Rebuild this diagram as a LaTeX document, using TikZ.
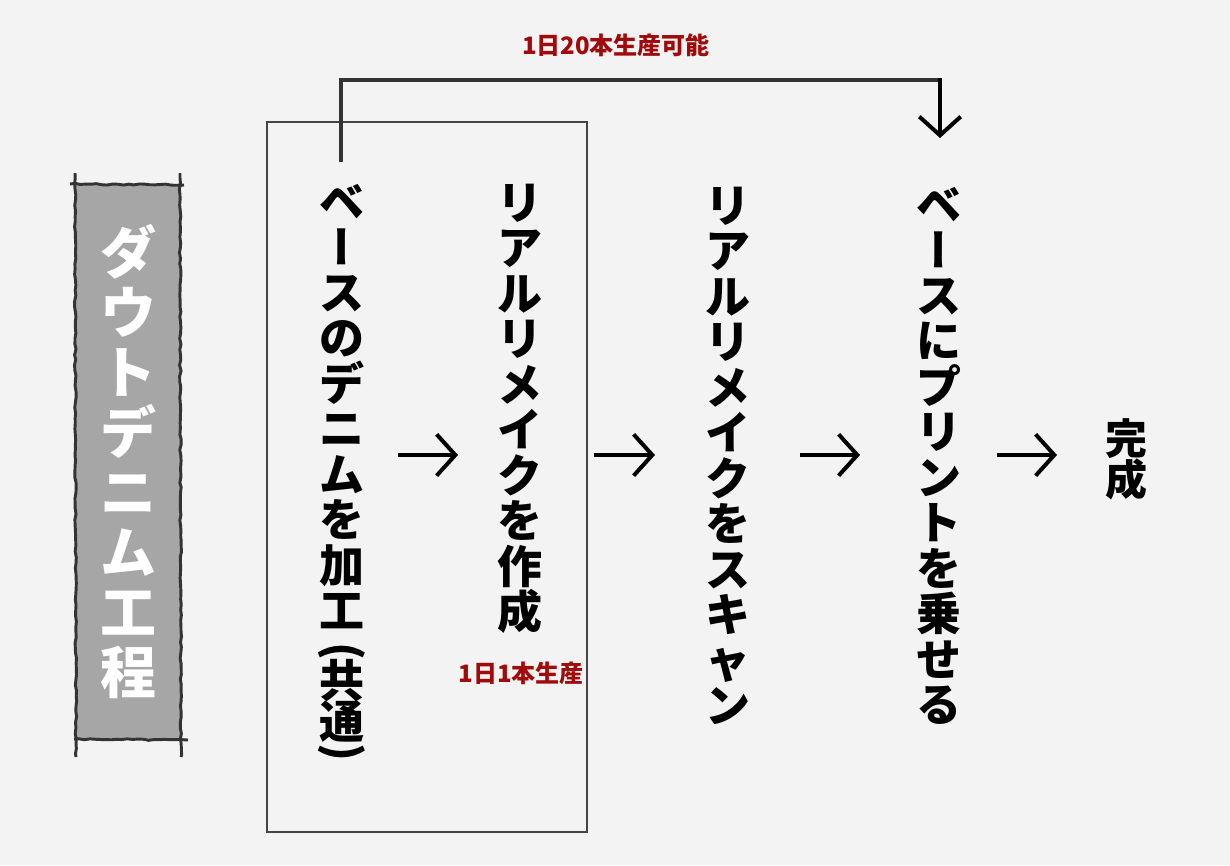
\documentclass[tikz,border=0pt]{standalone}
\usepackage{fontspec}
\usetikzlibrary{arrows.meta,decorations.pathmorphing}
\newfontfamily\jp{Noto Sans CJK JP}
\newfontfamily\jpv[RawFeature=+vert]{Noto Sans CJK JP}
\definecolor{bg}{HTML}{F3F3F3}
\definecolor{titlefill}{HTML}{A6A6A6}
\definecolor{ink}{HTML}{333333}
\definecolor{boxline}{HTML}{444444}
\definecolor{note}{HTML}{A00A0A}
\tikzset{
  ch/.style={inner sep=0pt, font=\jp\bfseries\fontsize{33.75}{33.75}\selectfont, text height=29.7pt, text depth=4.05pt},
  chfree/.style={inner sep=0pt, font=\jp\bfseries\fontsize{33.75}{33.75}\selectfont},
  titlech/.style={inner sep=0pt, text=white, font=\jp\bfseries\fontsize{42}{42}\selectfont, text height=36.96pt, text depth=5.04pt},
  donech/.style={inner sep=0pt, font=\jp\bfseries\fontsize{31.5}{31.5}\selectfont, text height=27.7pt, text depth=3.8pt},
  notelabel/.style={inner sep=0pt, text=note, font=\jp\bfseries\fontsize{18}{18}\selectfont},
  sketch/.style={line width=2.2pt, draw=ink, decorate, decoration={random steps, segment length=4pt, amplitude=0.55pt}},
  flowarrow/.style={line width=3pt, -{Straight Barb[length=14pt,width=31pt]}},
  bracket/.style={line width=3pt, draw=ink},
  groupbox/.style={line width=1.1pt, draw=boxline},
}
\begin{document}
\begin{tikzpicture}[x=0.75pt,y=-0.75pt]
\pgfmathsetseed{7}
\fill[bg] (0,0) rectangle (1230,865);
\useasboundingbox (0,0) rectangle (1230,865);

% title banner
\fill[titlefill] (76,184) rectangle (180,739);
\draw[sketch] (75,173) -- (76,757);
\draw[sketch] (180,173) -- (181,757);
\draw[sketch] (70,184) -- (184,185);
\draw[sketch] (74,739) -- (188,740);
\foreach \c/\y [count=\i] in {ダ/252,ウ/312,ト/372,デ/432,ニ/492,ム/552,工/612,程/672}
  \node[titlech] (t\i) at (128,\y) {\c};

% group box
\draw[groupbox] (267,122) rectangle (587,832);

% column 1
\foreach \c/\y [count=\i] in {ベ/201,ス/292,の/337.5,デ/383,ニ/428.5,ム/474,を/519.5,加/565,工/610.5,共/680,通/721}
  \node[ch] (a\i) at (342,\y) {\c};
\node[chfree] (abar) at (342,246.5) {\jpv ー};
\node[chfree, rotate=-90] (aopen) at (342,651) {(};
\node[chfree, rotate=-90] (aclose) at (342,752) {)};

% column 2
\foreach \c [count=\i] in {リ,ア,ル,リ,メ,イ,ク,を,作,成}
  \node[ch] (b\i) at (520,{202+(\i-1)*45.5}) {\c};

% column 3
\foreach \c [count=\i] in {リ,ア,ル,リ,メ,イ,ク,を,ス,キ,ャ,ン}
  \node[ch] (c\i) at (728,{205+(\i-1)*45.5}) {\c};

% column 4
\foreach \c [count=\i] in {ベ,ス,に,プ,リ,ン,ト,を,乗,せ,る}
  \node[ch] (d\i) at (939,{204+(\i>1)*45.5+(\i-1)*45.5}) {\c};
\node[chfree] (dbar) at (939,249.5) {\jpv ー};

% done
\node[donech] (e1) at (1126,439) {完};
\node[donech] (e2) at (1126,480) {成};

% notes
\node[notelabel] (n1) at (616,45) {1日20本生産可能};
\node[notelabel] (n2) at (521,673) {1日1本生産};

% flow arrows
\coordinate (f1s) at (398,455); \coordinate (f1e) at (458,455);
\coordinate (f2s) at (594,455); \coordinate (f2e) at (655,455);
\coordinate (f3s) at (800,455); \coordinate (f3e) at (860,455);
\coordinate (f4s) at (997,455); \coordinate (f4e) at (1057,455);
\draw[flowarrow] (f1s) -- (f1e);
\draw[flowarrow] (f2s) -- (f2e);
\draw[flowarrow] (f3s) -- (f3e);
\draw[flowarrow] (f4s) -- (f4e);

% bracket
\coordinate (bs) at (341,162);
\coordinate (bc) at (940,80);
\coordinate (be) at (940,138);
\draw[bracket] (bs) |- (bc);
\draw[flowarrow] ([yshift=1.5pt]bc) -- (be);
\end{tikzpicture}
\end{document}
